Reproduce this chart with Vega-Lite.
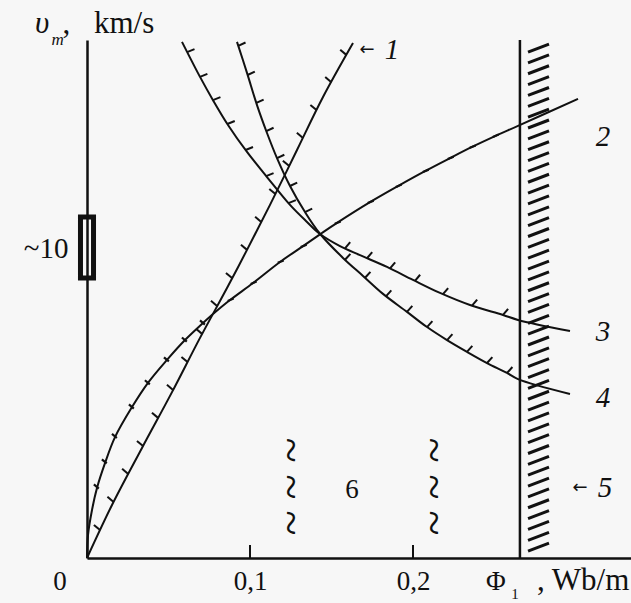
{
  "$schema": "https://vega.github.io/schema/vega-lite/v6.json",
  "width": 544,
  "height": 518,
  "autosize": {"type": "none"},
  "padding": {"left": 87, "top": 40, "right": 0, "bottom": 45},
  "background": "#f7f7f7",
  "config": {"view": {"stroke": null}},
  "datasets": {
    "curves": [
      {"c": "1", "x": 0, "y": 0}, {"c": "1", "x": 0.01534, "y": 1.71}, {"c": "1", "x": 0.03374, "y": 3.55}, {"c": "1", "x": 0.05215, "y": 5.35}, {"c": "1", "x": 0.06933, "y": 7.10}, {"c": "1", "x": 0.08589, "y": 8.71}, {"c": "1", "x": 0.09816, "y": 9.94}, {"c": "1", "x": 0.11227, "y": 11.39}, {"c": "1", "x": 0.12883, "y": 13.16}, {"c": "1", "x": 0.14479, "y": 14.87}, {"c": "1", "x": 0.16319, "y": 16.61},
      {"c": "2a", "x": 0, "y": 0}, {"c": "2a", "x": 0.00061, "y": 0.74}, {"c": "2a", "x": 0.00307, "y": 1.55}, {"c": "2a", "x": 0.00613, "y": 2.26}, {"c": "2a", "x": 0.01104, "y": 3.06}, {"c": "2a", "x": 0.01718, "y": 3.90}, {"c": "2a", "x": 0.02761, "y": 4.87}, {"c": "2a", "x": 0.03742, "y": 5.65}, {"c": "2a", "x": 0.04908, "y": 6.39}, {"c": "2a", "x": 0.06012, "y": 7.03}, {"c": "2a", "x": 0.07117, "y": 7.58}, {"c": "2a", "x": 0.07730, "y": 7.87},
      {"c": "2b", "x": 0.07730, "y": 7.87}, {"c": "2b", "x": 0.08773, "y": 8.32}, {"c": "2b", "x": 0.10184, "y": 8.87}, {"c": "2b", "x": 0.11840, "y": 9.55}, {"c": "2b", "x": 0.13252, "y": 10.06}, {"c": "2b", "x": 0.14294, "y": 10.44}, {"c": "2b", "x": 0.15337, "y": 10.81}, {"c": "2b", "x": 0.17362, "y": 11.48}, {"c": "2b", "x": 0.19080, "y": 12.00}, {"c": "2b", "x": 0.20736, "y": 12.48}, {"c": "2b", "x": 0.22270, "y": 12.90}, {"c": "2b", "x": 0.23620, "y": 13.26}, {"c": "2b", "x": 0.25031, "y": 13.61}, {"c": "2b", "x": 0.26442, "y": 13.94}, {"c": "2b", "x": 0.30123, "y": 14.81},
      {"c": "3", "x": 0.05828, "y": 16.65}, {"c": "3", "x": 0.06933, "y": 15.52}, {"c": "3", "x": 0.07730, "y": 14.77}, {"c": "3", "x": 0.08650, "y": 13.97}, {"c": "3", "x": 0.09816, "y": 13.10}, {"c": "3", "x": 0.11043, "y": 12.29}, {"c": "3", "x": 0.12454, "y": 11.39}, {"c": "3", "x": 0.13497, "y": 10.84}, {"c": "3", "x": 0.14294, "y": 10.45}, {"c": "3", "x": 0.15521, "y": 10.06}, {"c": "3", "x": 0.16748, "y": 9.77}, {"c": "3", "x": 0.18405, "y": 9.39}, {"c": "3", "x": 0.20000, "y": 8.97}, {"c": "3", "x": 0.21656, "y": 8.55}, {"c": "3", "x": 0.23497, "y": 8.16}, {"c": "3", "x": 0.25521, "y": 7.84}, {"c": "3", "x": 0.26442, "y": 7.68}, {"c": "3", "x": 0.29632, "y": 7.32},
      {"c": "4", "x": 0.09202, "y": 16.65}, {"c": "4", "x": 0.09816, "y": 15.65}, {"c": "4", "x": 0.10429, "y": 14.61}, {"c": "4", "x": 0.11043, "y": 13.71}, {"c": "4", "x": 0.11656, "y": 12.90}, {"c": "4", "x": 0.12454, "y": 12.00}, {"c": "4", "x": 0.13374, "y": 11.16}, {"c": "4", "x": 0.14294, "y": 10.46}, {"c": "4", "x": 0.15706, "y": 9.68}, {"c": "4", "x": 0.16933, "y": 9.10}, {"c": "4", "x": 0.18160, "y": 8.52}, {"c": "4", "x": 0.19632, "y": 7.94}, {"c": "4", "x": 0.20859, "y": 7.45}, {"c": "4", "x": 0.22086, "y": 7.03}, {"c": "4", "x": 0.23313, "y": 6.65}, {"c": "4", "x": 0.24540, "y": 6.29}, {"c": "4", "x": 0.25767, "y": 5.97}, {"c": "4", "x": 0.26442, "y": 5.77}, {"c": "4", "x": 0.29632, "y": 5.29}
    ],
    "hatch": [
      {"s": "1", "x": 0.0080, "y": 0.90}, {"s": "1", "x": 0.0163, "y": 1.81}, {"s": "1", "x": 0.0253, "y": 2.71}, {"s": "1", "x": 0.0344, "y": 3.61}, {"s": "1", "x": 0.0436, "y": 4.52}, {"s": "1", "x": 0.0528, "y": 5.42}, {"s": "1", "x": 0.0617, "y": 6.32}, {"s": "1", "x": 0.0706, "y": 7.23}, {"s": "1", "x": 0.0798, "y": 8.13}, {"s": "1", "x": 0.0890, "y": 9.03}, {"s": "1", "x": 0.0982, "y": 9.94}, {"s": "1", "x": 0.1069, "y": 10.84}, {"s": "1", "x": 0.1156, "y": 11.74}, {"s": "1", "x": 0.1239, "y": 12.65}, {"s": "1", "x": 0.1325, "y": 13.55}, {"s": "1", "x": 0.1408, "y": 14.45}, {"s": "1", "x": 0.1499, "y": 15.35}, {"s": "1", "x": 0.1591, "y": 16.23},
      {"s": "3u", "x": 0.0614, "y": 16.32}, {"s": "3u", "x": 0.0693, "y": 15.52}, {"s": "3u", "x": 0.0773, "y": 14.77}, {"s": "3u", "x": 0.0861, "y": 14.00}, {"s": "3u", "x": 0.0973, "y": 13.16}, {"s": "3u", "x": 0.1099, "y": 12.32}, {"s": "3u", "x": 0.1236, "y": 11.45},
      {"s": "3l", "x": 0.1583, "y": 9.99}, {"s": "3l", "x": 0.1718, "y": 9.67}, {"s": "3l", "x": 0.1859, "y": 9.34}, {"s": "3l", "x": 0.2012, "y": 8.94}, {"s": "3l", "x": 0.2184, "y": 8.51}, {"s": "3l", "x": 0.2362, "y": 8.14}, {"s": "3l", "x": 0.2552, "y": 7.84},
      {"s": "4u", "x": 0.0928, "y": 16.52}, {"s": "4u", "x": 0.0985, "y": 15.58}, {"s": "4u", "x": 0.1039, "y": 14.68}, {"s": "4u", "x": 0.1100, "y": 13.77}, {"s": "4u", "x": 0.1166, "y": 12.90}, {"s": "4u", "x": 0.1245, "y": 12.00}, {"s": "4u", "x": 0.1337, "y": 11.16},
      {"s": "4l", "x": 0.1583, "y": 9.62}, {"s": "4l", "x": 0.1706, "y": 9.04}, {"s": "4l", "x": 0.1834, "y": 8.44}, {"s": "4l", "x": 0.1963, "y": 7.94}, {"s": "4l", "x": 0.2086, "y": 7.45}, {"s": "4l", "x": 0.2209, "y": 7.03}, {"s": "4l", "x": 0.2331, "y": 6.65}, {"s": "4l", "x": 0.2454, "y": 6.29}, {"s": "4l", "x": 0.2577, "y": 5.97}
    ],
    "hatch2": [
      {"s": "2l", "x": 0.0061, "y": 2.29}, {"s": "2l", "x": 0.0110, "y": 3.10}, {"s": "2l", "x": 0.0172, "y": 3.92}, {"s": "2l", "x": 0.0276, "y": 4.87}, {"s": "2l", "x": 0.0374, "y": 5.65}, {"s": "2l", "x": 0.0491, "y": 6.39}, {"s": "2l", "x": 0.0601, "y": 7.03}, {"s": "2l", "x": 0.0712, "y": 7.58},
      {"s": "2u", "x": 0.0877, "y": 8.32}, {"s": "2u", "x": 0.1018, "y": 8.87}, {"s": "2u", "x": 0.1184, "y": 9.55}, {"s": "2u", "x": 0.1325, "y": 10.06}, {"s": "2u", "x": 0.1534, "y": 10.81}, {"s": "2u", "x": 0.1736, "y": 11.48}, {"s": "2u", "x": 0.1908, "y": 12.00}, {"s": "2u", "x": 0.2074, "y": 12.48}, {"s": "2u", "x": 0.2227, "y": 12.90}, {"s": "2u", "x": 0.2362, "y": 13.26}, {"s": "2u", "x": 0.2503, "y": 13.61}
    ],
    "band": [
      {"y": 16.45}, {"y": 16.10}, {"y": 15.75}, {"y": 15.40}, {"y": 15.05}, {"y": 14.70}, {"y": 14.35}, {"y": 14.00}, {"y": 13.65}, {"y": 13.30}, {"y": 12.95}, {"y": 12.60}, {"y": 12.25}, {"y": 11.90}, {"y": 11.55}, {"y": 11.20}, {"y": 10.85}, {"y": 10.50}, {"y": 10.15}, {"y": 9.80}, {"y": 9.45}, {"y": 9.10}, {"y": 8.75}, {"y": 8.40}, {"y": 8.05}, {"y": 7.70}, {"y": 7.35}, {"y": 7.00}, {"y": 6.65}, {"y": 6.30}, {"y": 5.95}, {"y": 5.60}, {"y": 5.25}, {"y": 4.90}, {"y": 4.55}, {"y": 4.20}, {"y": 3.85}, {"y": 3.50}, {"y": 3.15}, {"y": 2.80}, {"y": 2.45}, {"y": 2.10}, {"y": 1.75}, {"y": 1.40}, {"y": 1.05}, {"y": 0.70}, {"y": 0.35}
    ],
    "ticks": [{"x": 0.1}, {"x": 0.2}],
    "txtC": [
      {"t": "0", "x": -0.0166, "y": -1.03},
      {"t": "6", "x": 0.1626, "y": 1.94},
      {"t": "Φ", "x": 0.2509, "y": -1.03}
    ],
    "txtL": [
      {"t": ",", "x": -0.0150, "y": 16.94},
      {"t": "km/s", "x": 0.0043, "y": 16.94},
      {"t": ", Wb/m", "x": 0.2760, "y": -1.03}
    ],
    "num": [
      {"t": "1", "x": 0.1871, "y": 16.39},
      {"t": "2", "x": 0.3166, "y": 13.58},
      {"t": "3", "x": 0.3166, "y": 7.29},
      {"t": "4", "x": 0.3166, "y": 5.16},
      {"t": "5", "x": 0.3178, "y": 2.26}
    ],
    "arrows": [
      {"t": "←", "x": 0.1718, "y": 16.39},
      {"t": "←", "x": 0.3025, "y": 2.26}
    ],
    "squig": [
      {"t": "~", "x": 0.1245, "y": 3.48}, {"t": "~", "x": 0.1245, "y": 2.29}, {"t": "~", "x": 0.1245, "y": 1.13},
      {"t": "~", "x": 0.2123, "y": 3.48}, {"t": "~", "x": 0.2123, "y": 2.29}, {"t": "~", "x": 0.2123, "y": 1.13}
    ],
    "vsym": [{"t": "υ", "x": -0.0275, "y": 16.94}],
    "subI": [{"t": "m", "x": -0.0180, "y": 16.55}],
    "subN": [{"t": "1", "x": 0.2626, "y": -1.33}],
    "bar": [{"x": -0.0040, "x2": 0.0040, "y": 9.03, "y2": 11.0}]
  },
  "layer": [
    {
      "data": {"name": "curves"},
      "mark": {"type": "line", "interpolate": "catmull-rom", "color": "#111", "strokeWidth": 2},
      "encoding": {
        "x": {"field": "x", "type": "quantitative", "scale": {"domain": [0, 0.33374], "nice": false, "zero": false},
          "axis": {"values": [0.1, 0.2], "labelExpr": "replace(format(datum.value, '.1f'), '.', ',')", "ticks": false, "grid": false, "domain": true, "domainColor": "#111", "domainWidth": 2.5, "labelFont": "Liberation Serif", "labelFontSize": 27, "labelColor": "#111", "labelPadding": 10, "title": null, "zindex": 1}},
        "y": {"field": "y", "type": "quantitative", "scale": {"domain": [0, 16.71], "nice": false, "zero": false},
          "axis": {"values": [10], "labelExpr": "'~10'", "ticks": false, "grid": false, "domain": true, "domainColor": "#111", "domainWidth": 2.5, "labelFont": "Liberation Serif", "labelFontSize": 29, "labelColor": "#111", "labelPadding": 19, "title": null, "zindex": 1}},
        "detail": {"field": "c", "type": "nominal"}
      }
    },
    {
      "data": {"name": "ticks"},
      "mark": {"type": "rule", "color": "#111", "strokeWidth": 2},
      "encoding": {
        "x": {"field": "x", "type": "quantitative", "scale": {"domain": [0, 0.33374], "nice": false, "zero": false}},
        "y": {"datum": 0, "type": "quantitative", "scale": {"domain": [0, 16.71], "nice": false, "zero": false}},
        "y2": {"datum": 0.42}
      }
    },
    {
      "data": {"name": "bar"},
      "mark": {"type": "rect", "fill": "#f7f7f7", "stroke": "#111", "strokeWidth": 5},
      "encoding": {
        "x": {"field": "x", "type": "quantitative", "scale": {"domain": [0, 0.33374], "nice": false, "zero": false}},
        "x2": {"field": "x2"},
        "y": {"field": "y", "type": "quantitative", "scale": {"domain": [0, 16.71], "nice": false, "zero": false}},
        "y2": {"field": "y2"}
      }
    },
    {
      "data": {"name": "hatch"},
      "mark": {"type": "point", "shape": "M0,0L1,0", "size": 256, "filled": false, "stroke": "#111", "strokeWidth": 2, "opacity": 1},
      "encoding": {
        "x": {"field": "x", "type": "quantitative", "scale": {"domain": [0, 0.33374], "nice": false, "zero": false}},
        "y": {"field": "y", "type": "quantitative", "scale": {"domain": [0, 16.71], "nice": false, "zero": false}},
        "angle": {"field": "s", "type": "nominal", "scale": {"type": "ordinal", "domain": ["1", "3u", "3l", "4u", "4l"], "range": [-140, -22, -50, -25, -48]}, "legend": null}
      }
    },
    {
      "data": {"name": "hatch2"},
      "mark": {"type": "point", "shape": "M-0.6,0L1,0", "size": 64, "filled": false, "stroke": "#111", "strokeWidth": 2.2, "opacity": 1},
      "encoding": {
        "x": {"field": "x", "type": "quantitative", "scale": {"domain": [0, 0.33374], "nice": false, "zero": false}},
        "y": {"field": "y", "type": "quantitative", "scale": {"domain": [0, 16.71], "nice": false, "zero": false}},
        "angle": {"field": "s", "type": "nominal", "scale": {"type": "ordinal", "domain": ["2l", "2u"], "range": [-145, -118]}, "legend": null}
      }
    },
    {
      "data": {"values": [{}]},
      "mark": {"type": "rule", "color": "#111", "strokeWidth": 2.5},
      "encoding": {
        "x": {"datum": 0.2656, "type": "quantitative", "scale": {"domain": [0, 0.33374], "nice": false, "zero": false}}
      }
    },
    {
      "data": {"name": "band"},
      "mark": {"type": "point", "shape": "M-1,0.38L1,-0.38", "size": 440, "filled": false, "stroke": "#111", "strokeWidth": 3, "opacity": 1},
      "encoding": {
        "x": {"datum": 0.2770, "type": "quantitative", "scale": {"domain": [0, 0.33374], "nice": false, "zero": false}},
        "y": {"field": "y", "type": "quantitative", "scale": {"domain": [0, 16.71], "nice": false, "zero": false}}
      }
    },
    {
      "data": {"name": "txtC"},
      "mark": {"type": "text", "font": "Liberation Serif", "fontSize": 27, "color": "#111", "align": "center", "baseline": "alphabetic"},
      "encoding": {
        "x": {"field": "x", "type": "quantitative", "scale": {"domain": [0, 0.33374], "nice": false, "zero": false}},
        "y": {"field": "y", "type": "quantitative", "scale": {"domain": [0, 16.71], "nice": false, "zero": false}},
        "text": {"field": "t"}
      }
    },
    {
      "data": {"name": "txtL"},
      "mark": {"type": "text", "font": "Liberation Serif", "fontSize": 31, "color": "#111", "align": "left", "baseline": "alphabetic"},
      "encoding": {
        "x": {"field": "x", "type": "quantitative", "scale": {"domain": [0, 0.33374], "nice": false, "zero": false}},
        "y": {"field": "y", "type": "quantitative", "scale": {"domain": [0, 16.71], "nice": false, "zero": false}},
        "text": {"field": "t"}
      }
    },
    {
      "data": {"name": "num"},
      "mark": {"type": "text", "font": "Liberation Serif", "fontStyle": "italic", "fontSize": 29, "color": "#111", "align": "center", "baseline": "middle"},
      "encoding": {
        "x": {"field": "x", "type": "quantitative", "scale": {"domain": [0, 0.33374], "nice": false, "zero": false}},
        "y": {"field": "y", "type": "quantitative", "scale": {"domain": [0, 16.71], "nice": false, "zero": false}},
        "text": {"field": "t"}
      }
    },
    {
      "data": {"name": "arrows"},
      "mark": {"type": "text", "font": "DejaVu Sans", "fontSize": 18, "color": "#111", "align": "center", "baseline": "middle"},
      "encoding": {
        "x": {"field": "x", "type": "quantitative", "scale": {"domain": [0, 0.33374], "nice": false, "zero": false}},
        "y": {"field": "y", "type": "quantitative", "scale": {"domain": [0, 16.71], "nice": false, "zero": false}},
        "text": {"field": "t"}
      }
    },
    {
      "data": {"name": "squig"},
      "mark": {"type": "text", "font": "Liberation Serif", "fontSize": 46, "angle": 90, "color": "#111", "align": "center", "baseline": "middle"},
      "encoding": {
        "x": {"field": "x", "type": "quantitative", "scale": {"domain": [0, 0.33374], "nice": false, "zero": false}},
        "y": {"field": "y", "type": "quantitative", "scale": {"domain": [0, 16.71], "nice": false, "zero": false}},
        "text": {"field": "t"}
      }
    },
    {
      "data": {"name": "vsym"},
      "mark": {"type": "text", "font": "Liberation Serif", "fontStyle": "italic", "fontSize": 31, "color": "#111", "align": "center", "baseline": "alphabetic"},
      "encoding": {
        "x": {"field": "x", "type": "quantitative", "scale": {"domain": [0, 0.33374], "nice": false, "zero": false}},
        "y": {"field": "y", "type": "quantitative", "scale": {"domain": [0, 16.71], "nice": false, "zero": false}},
        "text": {"field": "t"}
      }
    },
    {
      "data": {"name": "subI"},
      "mark": {"type": "text", "font": "Liberation Serif", "fontStyle": "italic", "fontSize": 17, "color": "#111", "align": "center", "baseline": "alphabetic"},
      "encoding": {
        "x": {"field": "x", "type": "quantitative", "scale": {"domain": [0, 0.33374], "nice": false, "zero": false}},
        "y": {"field": "y", "type": "quantitative", "scale": {"domain": [0, 16.71], "nice": false, "zero": false}},
        "text": {"field": "t"}
      }
    },
    {
      "data": {"name": "subN"},
      "mark": {"type": "text", "font": "Liberation Serif", "fontSize": 15, "color": "#111", "align": "center", "baseline": "alphabetic"},
      "encoding": {
        "x": {"field": "x", "type": "quantitative", "scale": {"domain": [0, 0.33374], "nice": false, "zero": false}},
        "y": {"field": "y", "type": "quantitative", "scale": {"domain": [0, 16.71], "nice": false, "zero": false}},
        "text": {"field": "t"}
      }
    }
  ]
}
